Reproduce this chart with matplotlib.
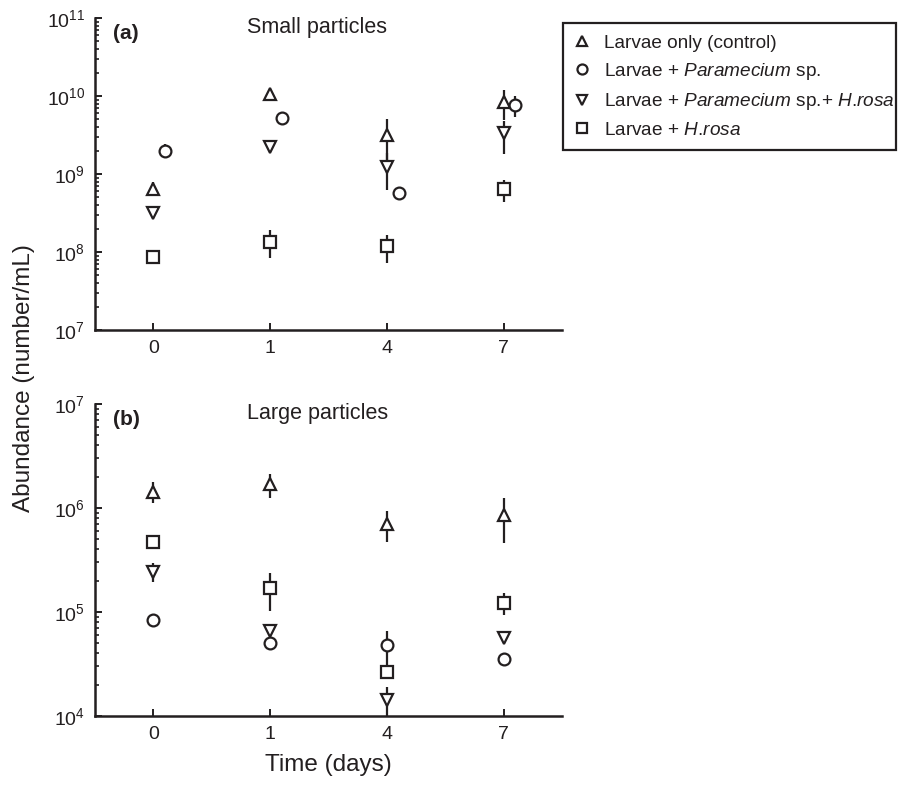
import matplotlib
matplotlib.use('Agg')
import matplotlib.pyplot as plt
from matplotlib.ticker import LogLocator, NullFormatter
import numpy as np

plt.rcParams['font.family'] = ['Liberation Sans', 'DejaVu Sans']
plt.rcParams['mathtext.fontset'] = 'custom'
plt.rcParams['mathtext.rm'] = 'Liberation Sans'
plt.rcParams['mathtext.it'] = 'Liberation Sans:italic'
plt.rcParams['mathtext.bf'] = 'Liberation Sans:bold'

# ---- data ----
days = ['0', '1', '4', '7']
groups = ['Larvae only (control)',
          r'Larvae + $\mathit{Paramecium}$ sp.',
          r'Larvae + $\mathit{Paramecium}$ sp.+ $\mathit{H}$.$\mathit{rosa}$',
          r'Larvae + $\mathit{H}$.$\mathit{rosa}$']

# small particles (number/mL)
small_control = [6.5e8, 1.05e10, 3.16e9, 8.45e9]
small_control_sd = [1.3e8, 1.0e9, 1.85e9, 3.5e9]
small_param = [2.0e9, 5.2e9, 5.75e8, 7.67e9]
small_param_sd = [4.0e8, 5.0e8, 5.0e7, 2.3e9]
small_both = [3.2e8, 2.24e9, 1.24e9, 3.33e9]
small_both_sd = [3.0e7, 2.0e8, 6.2e8, 1.5e9]
small_hrosa = [8.7e7, 1.36e8, 1.19e8, 6.37e8]
small_hrosa_sd = [5.0e6, 5.3e7, 4.6e7, 2.0e8]

# large particles (number/mL)
large_control = [1.44e6, 1.69e6, 7.0e5, 8.57e5]
large_control_sd = [3.3e5, 4.3e5, 2.3e5, 4.0e5]
large_param = [8.4e4, 5.0e4, 4.8e4, 3.5e4]
large_param_sd = [4.0e3, 7.0e3, 1.7e4, 2.0e3]
large_both = [2.44e5, 6.6e4, 1.43e4, 5.6e4]
large_both_sd = [5.0e4, 4.0e3, 4.6e3, 3.0e3]
large_hrosa = [4.68e5, 1.69e5, 2.63e4, 1.23e5]
large_hrosa_sd = [3.0e4, 6.6e4, 3.0e3, 2.9e4]

# ---- style ----
ink = '#231f20'
markers = ['^', 'o', 'v', 's']
shift_top = [0, 0.1, 0, 0]      # circles nudged right in panel (a)
shift_bottom = [0, 0, 0, 0]


def panel(ax, means, sds, shift, ylim, letter, title):
    x = np.arange(len(days))
    for m, s, dx in zip(means, sds, shift):
        ax.errorbar(x + dx, m, yerr=s, fmt='none', ecolor=ink,
                    elinewidth=1.6, capsize=0, zorder=2)
    handles = []
    for m, dx, mk in zip(means, shift, markers):
        h, = ax.plot(x + dx, m, ls='none', marker=mk, ms=8.5, mfc='white',
                     mec=ink, mew=1.6, zorder=3, clip_on=False)
        handles.append(h)

    ax.set_yscale('log')
    ax.set_ylim(*ylim)
    ax.set_xlim(-0.5, 3.5)
    ax.set_xticks(x)
    ax.set_xticklabels(days)
    ax.yaxis.set_major_locator(LogLocator(base=10, numticks=20))
    ax.yaxis.set_minor_locator(LogLocator(base=10, subs=np.arange(2, 10), numticks=20))
    ax.yaxis.set_minor_formatter(NullFormatter())

    for side in ['top', 'right']:
        ax.spines[side].set_visible(False)
    for side in ['left', 'bottom']:
        ax.spines[side].set_linewidth(1.8)
        ax.spines[side].set_color(ink)
    ax.tick_params(which='major', direction='in', length=5, width=1.4,
                   labelsize=14, pad=7, colors=ink)
    ax.tick_params(which='minor', direction='in', length=3, width=1.2, colors=ink)
    ax.tick_params(axis='x', which='minor', bottom=False)

    ax.text(0.0385, 0.933, letter, transform=ax.transAxes,
            fontsize=15, fontweight='bold', color=ink, va='baseline')
    ax.text(0.3255, 0.952, title, transform=ax.transAxes,
            fontsize=15.5, color=ink, va='baseline')
    return handles


fig = plt.figure(figsize=(9.04, 7.85), dpi=100)
ax1 = fig.add_axes([0.1051, 0.5796, 0.5166, 0.3975])
ax2 = fig.add_axes([0.1051, 0.0879, 0.5166, 0.3975])

h = panel(ax1, [small_control, small_param, small_both, small_hrosa],
          [small_control_sd, small_param_sd, small_both_sd, small_hrosa_sd],
          shift_top, (1e7, 1e11), '(a)', 'Small particles')
panel(ax2, [large_control, large_param, large_both, large_hrosa],
      [large_control_sd, large_param_sd, large_both_sd, large_hrosa_sd],
      shift_bottom, (1e4, 1e7), '(b)', 'Large particles')

ax2.set_xlabel('Time (days)', fontsize=17.5, color=ink, labelpad=8)
fig.text(24 / 904, 1 - 378 / 785, 'Abundance (number/mL)', rotation=90,
         fontsize=17.5, color=ink, ha='center', va='center')

leg = fig.legend(h, groups, loc='upper left',
                 bbox_to_anchor=(563 / 904, 1 - 23 / 785, 333 / 904, 0),
                 mode='expand', borderaxespad=0, fontsize=13.7,
                 fancybox=False, framealpha=1, edgecolor=ink,
                 handlelength=0.8, handletextpad=0.75, borderpad=0.6,
                 labelspacing=0.49, markerscale=0.85)
leg.get_frame().set_linewidth(1.6)
for t in leg.get_texts():
    t.set_color(ink)

fig.savefig('out.png', dpi=100)
